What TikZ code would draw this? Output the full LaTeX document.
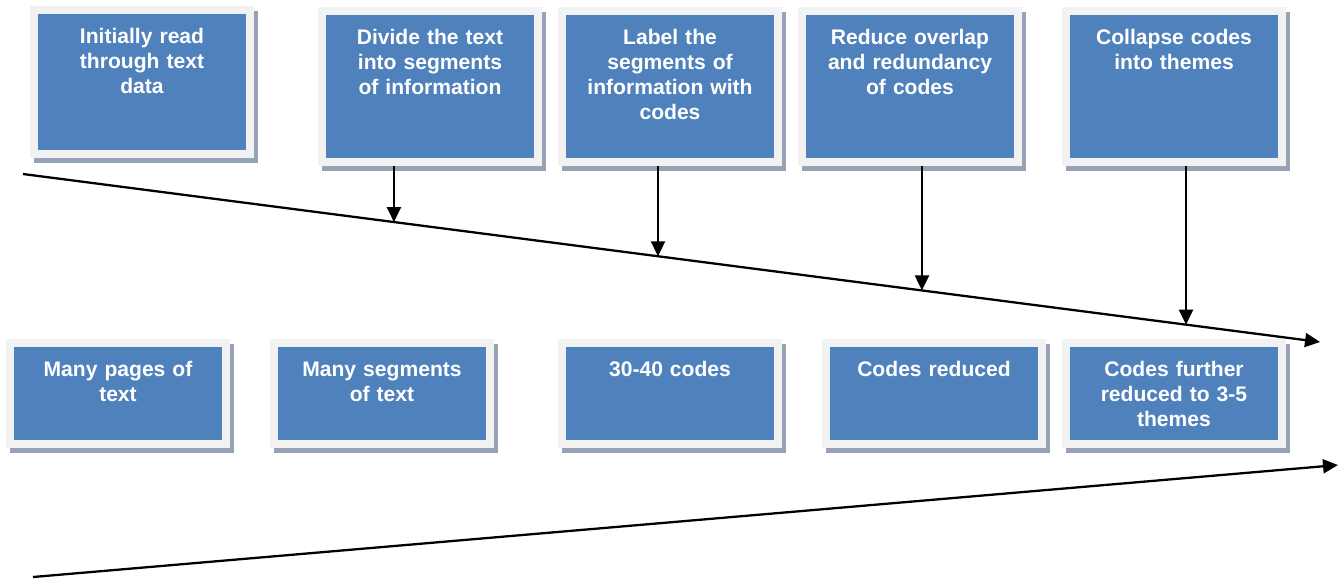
\documentclass[tikz,border=0pt]{standalone}
\usepackage{fontspec}
\setmainfont{Liberation Sans}
\usetikzlibrary{calc, shadows, arrows.meta}
\definecolor{stageblue}{RGB}{79,129,189}
\definecolor{framegray}{RGB}{242,242,242}
\definecolor{shadegray}{RGB}{150,163,181}
\tikzset{
  font=\fontsize{12}{14.3}\selectfont\bfseries,
  % Set arrowhead
  >={Triangle[length=0.3cm, width=0.28cm]},
  % Blue box with light frame and shadow
  stage/.style={draw=framegray, fill=stageblue, line width=0.16cm,
    text=white, text width=4.1cm, align=center, inner sep=0pt,
    minimum width=4.32cm, text height=0.67cm,
    drop shadow={shadow xshift=0.08cm, shadow yshift=-0.1cm, opacity=1,
      fill=shadegray, draw=shadegray, line width=0.16cm}},
  % Step box (top row)
  stepbox/.style={stage, text depth=2.35cm},
  % Result box (bottom row)
  resultbox/.style={stage, text depth=1.35cm},
  % Arrows
  flow/.style={->, line width=1.3pt},
}

\begin{document}
\begin{tikzpicture}[x=0.02cm, y=-0.02cm]
  \useasboundingbox (0,0) rectangle (1343,579);

  % Steps
  \node[stepbox, text depth=2.21cm] (read) at (142,82) {Initially read\\through text\\data};
  \node[stepbox] (divide) at (430,86.5) {Divide the text\\into segments\\of information};
  \node[stepbox] (label) at (670,86.5) {Label the\\segments of\\information with\\codes};
  \node[stepbox] (reduce) at (910,86.5) {Reduce overlap\\and redundancy\\of codes};
  \node[stepbox] (collapse) at (1174,86.5) {Collapse codes\\into themes};

  % Results
  \node[resultbox] (pages) at (118,393.5) {Many pages of\\text};
  \node[resultbox] (segments) at (382,393.5) {Many segments\\of text};
  \node[resultbox] (codes) at (670,393.5) {30-40 codes};
  \node[resultbox] (fewer) at (934,393.5) {Codes reduced};
  \node[resultbox] (themes) at (1174,393.5) {Codes further\\reduced to 3-5\\themes};

  % Long arrows
  \coordinate (ls) at (23,174);
  \coordinate (le) at (1320,342);
  \coordinate (bs) at (33,577);
  \coordinate (be) at (1338,465);
  \draw[flow] (ls) -- (le);
  \draw[flow] (bs) -- (be);

  % Drops onto the upper arrow
  \coordinate (h1) at ($(ls)!0.2860!(le)$);
  \coordinate (h2) at ($(ls)!0.4896!(le)$);
  \coordinate (h3) at ($(ls)!0.6931!(le)$);
  \coordinate (h4) at ($(ls)!0.8967!(le)$);
  \draw[flow] (divide.south -| h1) -- (h1);
  \draw[flow] (label.south -| h2) -- (h2);
  \draw[flow] (reduce.south -| h3) -- (h3);
  \draw[flow] (collapse.south -| h4) -- (h4);
\end{tikzpicture}
\end{document}
